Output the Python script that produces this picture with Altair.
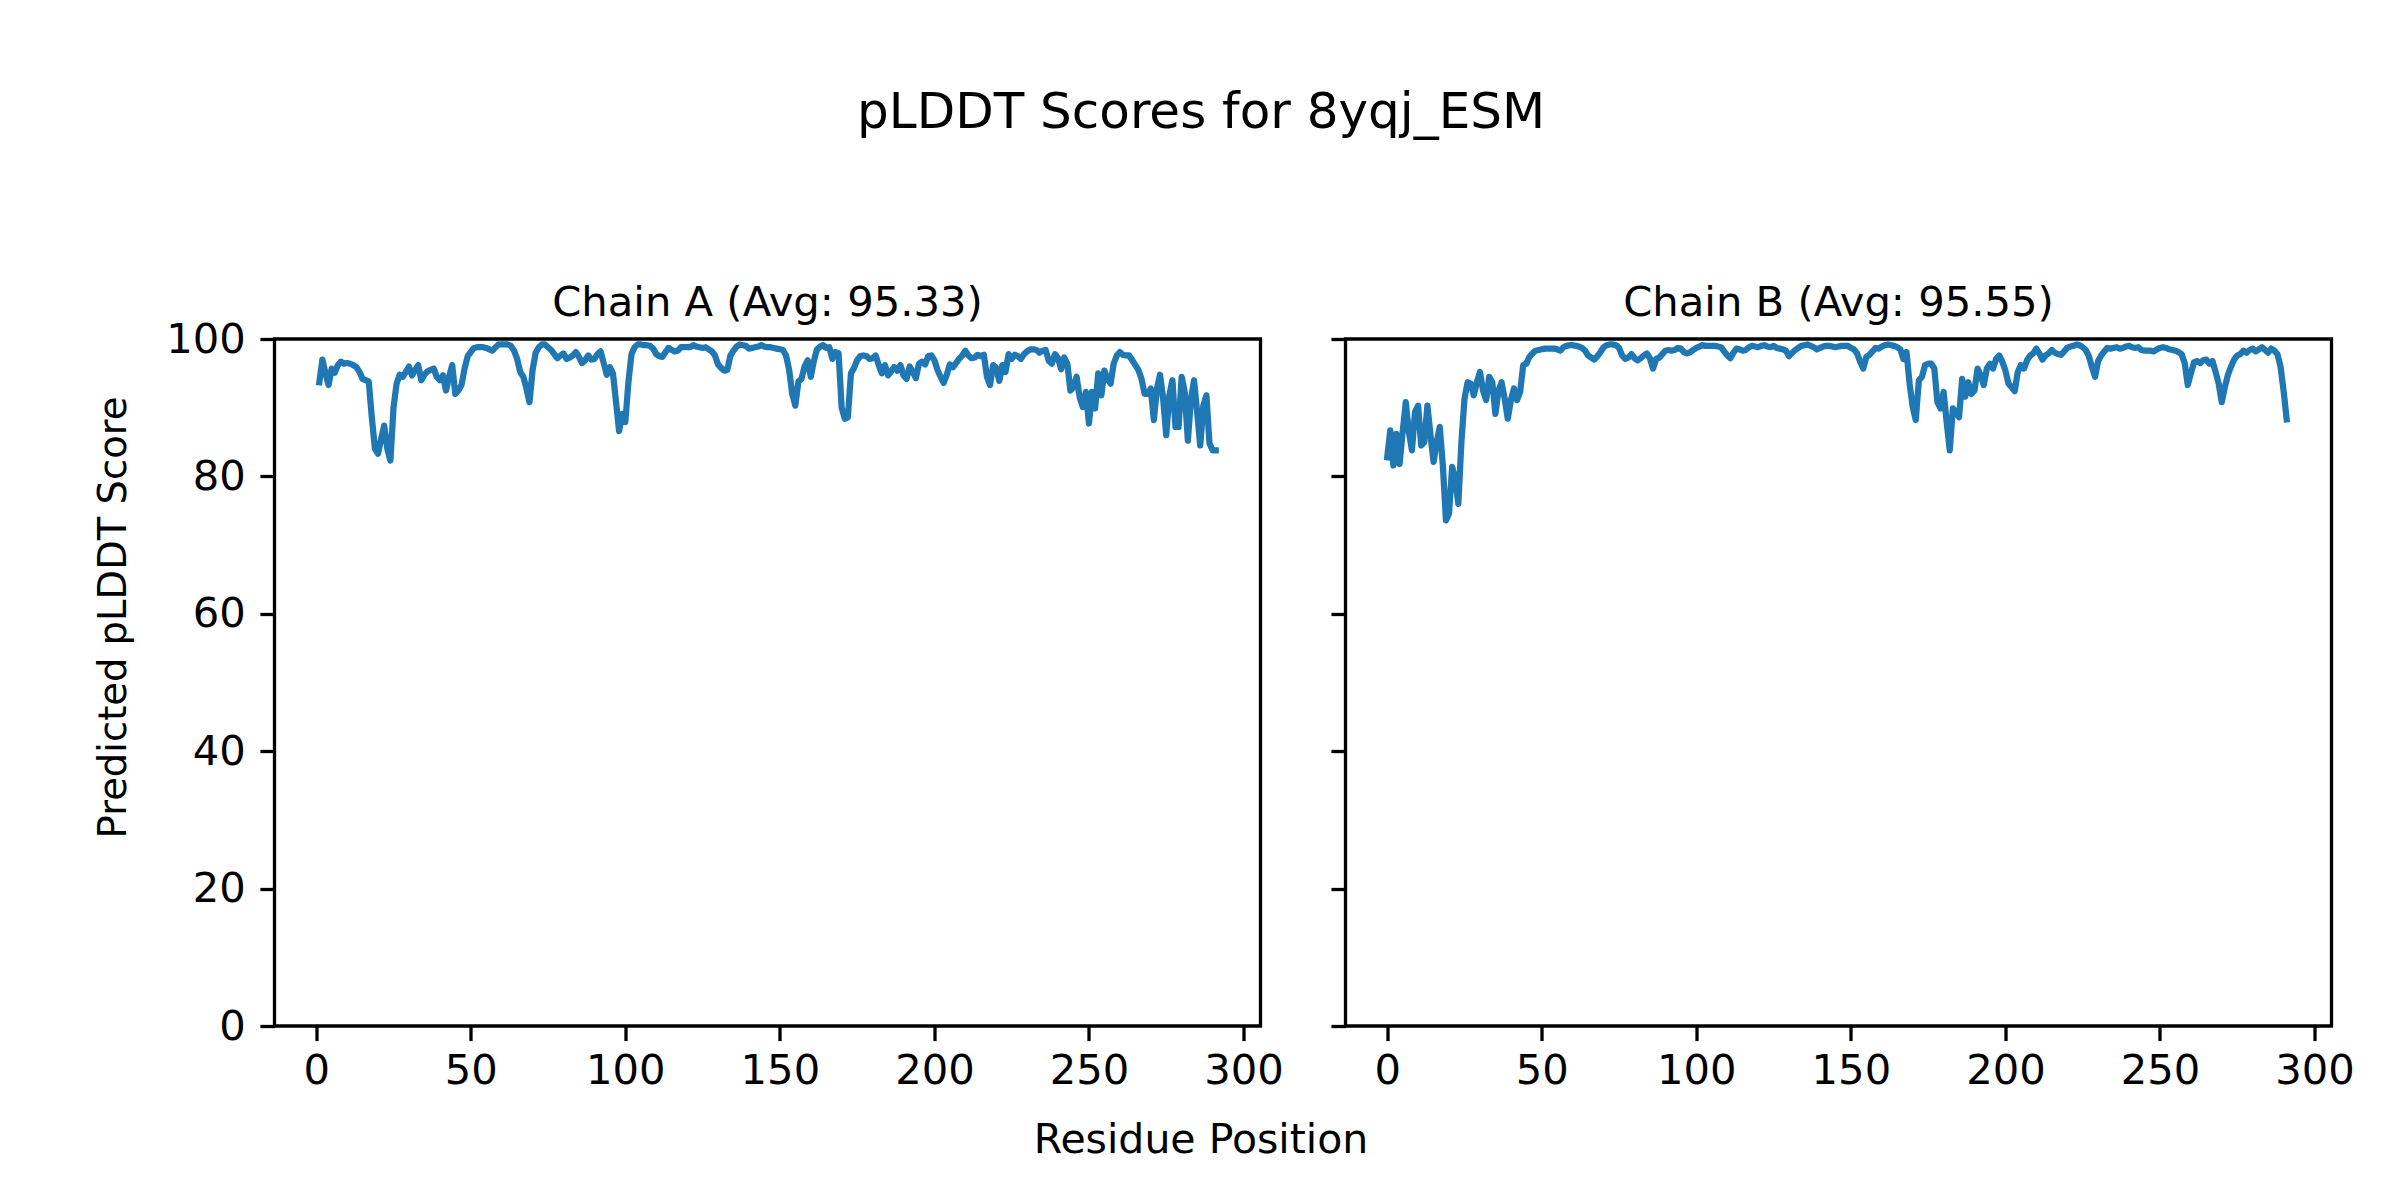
import altair as alt
import pandas as pd

chain_a_scores = [
    93.7, 97.0, 95.0, 93.3, 95.7, 95.1, 96.2, 96.7, 96.4, 96.5,
    96.4, 96.2, 95.9, 95.2, 94.2, 94.0, 93.8, 88.5, 84.0, 83.3,
    85.5, 87.4, 84.0, 82.3, 90.0, 93.5, 94.8, 94.5, 95.2, 96.0,
    94.7, 95.5, 96.2, 94.0, 94.8, 95.3, 95.5, 95.7, 94.5, 94.0,
    94.7, 92.5, 94.5, 96.2, 92.0, 92.5, 93.3, 95.7, 97.5, 98.1,
    98.7, 98.8, 98.8, 98.8, 98.7, 98.5, 98.3, 98.8, 99.2, 99.2,
    99.2, 99.2, 99.0, 98.3, 97.1, 95.2, 94.5, 92.8, 90.8, 95.5,
    98.0, 98.8, 99.2, 99.2, 98.8, 98.4, 97.8, 97.2, 97.6, 97.9,
    97.1, 97.3, 97.6, 98.1, 97.4, 96.5, 96.9, 97.6, 97.0, 97.1,
    97.8, 98.2, 96.5, 94.8, 95.9, 95.0, 90.8, 86.6, 89.1, 87.9,
    93.7, 97.8, 98.8, 99.2, 99.2, 99.1, 99.1, 99.0, 98.6, 97.8,
    97.5, 97.4, 98.1, 98.7, 98.4, 98.2, 98.3, 98.8, 98.8, 98.8,
    98.8, 99.1, 98.9, 98.8, 98.7, 98.8, 98.5, 98.2, 97.6, 96.3,
    95.8, 95.4, 95.5, 97.6, 98.3, 98.9, 99.2, 99.1, 99.0, 98.6,
    98.7, 98.8, 98.9, 99.1, 98.9, 98.8, 98.8, 98.7, 98.6, 98.5,
    98.4, 97.6, 95.5, 92.0, 90.3, 93.8, 94.2, 96.0, 96.9, 94.5,
    96.8, 98.5, 98.9, 99.1, 98.7, 98.8, 97.1, 98.1, 97.9, 90.0,
    88.4, 88.6, 95.0, 95.8, 96.9, 97.5, 97.6, 97.5, 97.1, 97.2,
    97.6, 96.2, 95.0, 96.2, 94.7, 95.3, 95.9, 95.4, 96.2, 94.7,
    94.2, 96.0, 95.2, 94.3, 96.4, 96.7, 96.3, 97.5, 97.6, 96.9,
    95.5, 94.5, 93.6, 94.8, 96.3, 95.9, 96.5, 97.1, 97.6, 98.3,
    97.6, 97.2, 97.3, 97.7, 97.5, 97.7, 94.5, 93.3, 96.2, 95.8,
    93.9, 96.2, 95.2, 97.8, 97.1, 97.7, 97.5, 97.1, 97.8, 98.2,
    98.5, 98.5, 98.4, 98.0, 98.3, 98.4, 96.8, 96.4, 97.8, 97.2,
    95.6, 97.3, 96.4, 92.5, 93.0, 94.5, 91.5, 90.1, 92.3, 87.7,
    92.3, 89.9, 95.0, 91.8, 95.4, 94.2, 93.5, 96.4, 97.6, 98.1,
    97.7, 97.6, 97.6, 96.9, 96.2, 95.5, 94.2, 92.0, 92.0, 92.8,
    88.2, 92.8, 94.8, 91.3, 86.0, 91.8, 94.0, 87.2, 87.2, 94.5,
    92.3, 85.2, 91.3, 94.0, 89.4, 84.5, 90.3, 91.8, 84.8, 83.8,
    83.8,
]

chain_b_scores = [
    82.8, 86.7, 81.6, 86.2, 81.8, 86.5, 90.8, 86.5, 83.8, 89.4,
    90.3, 84.5, 85.0, 90.3, 86.0, 82.1, 85.0, 87.2, 81.6, 73.6,
    74.6, 81.4, 79.7, 76.0, 85.0, 91.3, 93.7, 93.5, 91.8, 93.7,
    95.2, 92.5, 91.1, 94.5, 93.7, 89.1, 92.5, 93.7, 91.3, 88.4,
    91.1, 92.8, 91.1, 92.3, 96.2, 96.4, 97.4, 97.9, 98.3, 98.4,
    98.5, 98.6, 98.6, 98.6, 98.6, 98.5, 98.3, 98.8, 99.0, 99.1,
    99.1, 99.0, 98.9, 98.7, 98.3, 97.6, 97.3, 97.0, 97.5, 98.1,
    98.8, 99.1, 99.2, 99.2, 99.1, 98.7, 97.6, 97.1, 97.3, 97.8,
    97.2, 96.9, 97.2, 97.6, 97.9, 97.2, 95.7, 97.1, 97.3, 97.8,
    98.3, 98.4, 98.3, 98.4, 98.7, 98.6, 98.1, 97.9, 98.1, 98.4,
    98.7, 98.9, 99.1, 99.0, 99.0, 99.0, 99.0, 98.9, 98.8, 98.2,
    97.6, 97.2, 98.0, 98.6, 98.5, 98.3, 98.4, 98.8, 99.0, 98.9,
    98.8, 99.0, 99.1, 98.9, 98.8, 99.0, 98.7, 98.6, 98.5, 98.3,
    97.5, 98.0, 98.4, 98.7, 99.0, 99.1, 99.2, 99.0, 98.8, 98.5,
    98.7, 98.9, 99.0, 99.0, 98.9, 98.8, 98.9, 99.0, 99.0, 99.0,
    98.7, 98.5, 97.9, 96.7, 95.7, 97.4, 97.7, 98.2, 98.7, 98.6,
    98.9, 99.1, 99.2, 99.1, 99.0, 98.8, 98.5, 97.1, 98.1, 93.5,
    90.1, 88.2, 94.0, 94.5, 96.2, 96.4, 96.4, 95.7, 90.8, 89.9,
    92.3, 87.9, 83.8, 89.9, 89.4, 88.6, 94.2, 91.6, 93.7, 92.0,
    92.5, 95.7, 94.7, 93.3, 95.7, 96.4, 95.7, 97.1, 97.6, 96.7,
    95.4, 93.5, 93.0, 92.4, 95.2, 96.2, 95.7, 96.9, 97.6, 97.9,
    98.6, 97.9, 97.0, 97.6, 97.9, 98.4, 98.0, 97.8, 97.7, 98.2,
    98.7, 98.9, 99.0, 99.2, 99.1, 98.8, 98.4, 97.5, 95.9, 94.5,
    96.8, 97.6, 98.2, 98.7, 98.6, 98.7, 98.8, 98.6, 98.7, 98.9,
    99.0, 98.8, 98.7, 98.8, 98.4, 98.3, 98.3, 98.3, 98.2, 98.5,
    98.7, 98.8, 98.7, 98.5, 98.4, 98.3, 98.1, 97.8, 96.5, 93.3,
    95.0, 96.6, 96.8, 96.5, 96.9, 97.0, 96.4, 96.8, 95.2, 93.5,
    90.8, 93.0, 94.8, 96.0, 97.0, 97.6, 97.8, 98.3, 98.0, 98.4,
    98.6, 98.2, 98.5, 98.8, 98.4, 98.0, 98.6, 98.3, 97.8, 96.0,
    92.5, 88.3,
]

chain_a_start = 1
chain_b_start = 0
panel_titles = ["Chain A (Avg: 95.33)", "Chain B (Avg: 95.55)"]
main_title = "pLDDT Scores for 8yqj_ESM"
x_title = "Residue Position"
y_title = "Predicted pLDDT Score"
x_ticks = [0, 50, 100, 150, 200, 250, 300]
y_ticks = [0, 20, 40, 60, 80, 100]

FONT = "DejaVu Sans"
W, H = 986, 687


def panel(scores, start, title, first):
    df = pd.DataFrame({"pos": list(range(start, start + len(scores))), "score": scores})
    if first:
        xaxis = alt.Axis(values=x_ticks, title=x_title, titleX=926, titleY=114,
                         labelPadding=10,
                         titleAlign="center", titleBaseline="middle",
                         titleFontSize=41, titleFontWeight="normal", titleFont=FONT,
                         titleColor="black")
        yaxis = alt.Axis(values=y_ticks, title=y_title, titleX=-161.5, titleY=278,
                         titleAlign="center", titleBaseline="middle", titleAngle=270,
                         titleFontSize=38.5, titleFontWeight="normal", titleFont=FONT,
                         titleColor="black")
        toff = -38.5
    else:
        xaxis = alt.Axis(values=x_ticks, title=None, labelPadding=10)
        yaxis = alt.Axis(values=y_ticks, title=None, labels=False)
        toff = -20
    return alt.Chart(df).mark_line(color="#1f77b4", strokeWidth=6.25,
                                   strokeCap="square", strokeJoin="round").encode(
        x=alt.X("pos:Q", scale=alt.Scale(domain=[-13.5, 305.5], nice=False, zero=False),
                axis=xaxis),
        y=alt.Y("score:Q", scale=alt.Scale(domain=[0, 100], nice=False), axis=yaxis),
    ).properties(
        width=W, height=H,
        title=alt.TitleParams(title, fontSize=41.7, font=FONT, fontWeight="normal",
                              color="black", offset=toff, baseline="alphabetic",
                              anchor="middle"),
    )


a = panel(chain_a_scores, chain_a_start, panel_titles[0], True)
b = panel(chain_b_scores, chain_b_start, panel_titles[1], False)

chart = alt.hconcat(a, b, spacing=85, bounds="flush").properties(
    title=alt.TitleParams(main_title, fontSize=50, font=FONT, fontWeight="normal",
                          color="black", offset=103, baseline="alphabetic",
                          anchor="middle", dx=-23),
    padding={"left": 83.5, "top": 80, "right": 5, "bottom": 5},
    background="white",
).configure_view(
    stroke="black", strokeWidth=3.3
).configure_axis(
    domain=False, grid=False, ticks=True, tickColor="black", tickWidth=3.3,
    tickSize=14.6, labelPadding=14.6, labelFont=FONT, labelFontSize=41.7,
    labelColor="black",
)

chart.save("out.html", embed_options={"renderer": "svg", "actions": False})
